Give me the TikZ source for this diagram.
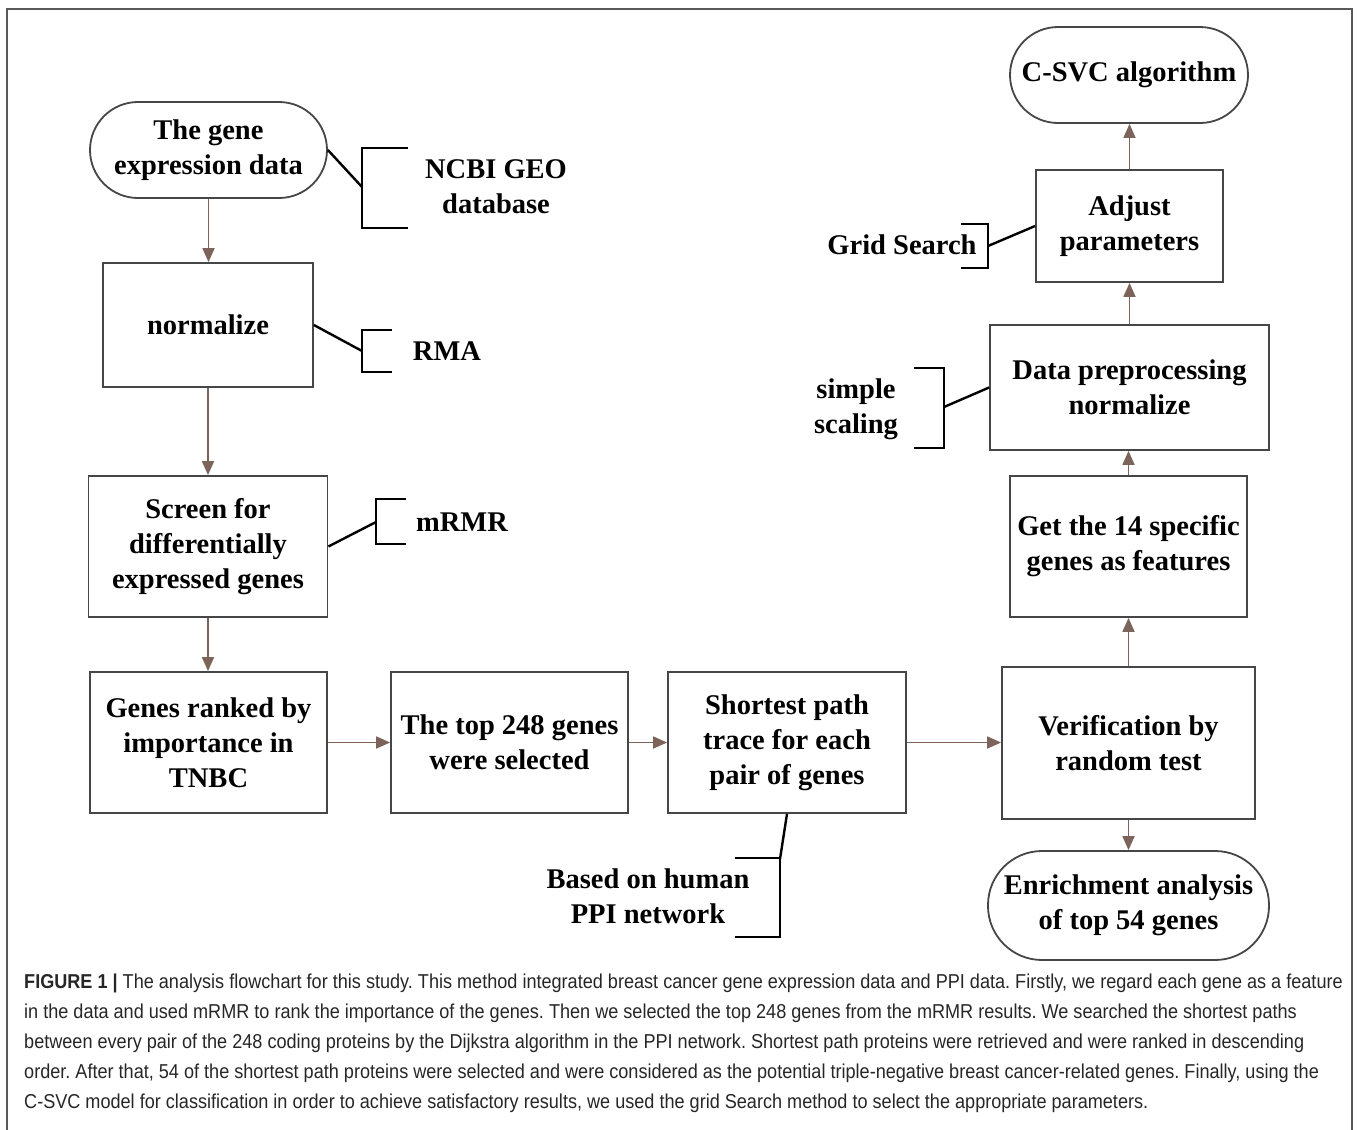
\documentclass[tikz,border=0pt]{standalone}
\usepackage{fontspec}
\setmainfont{Liberation Serif}
\newfontfamily\capfont[FakeStretch=0.9]{Liberation Sans}
\usetikzlibrary{arrows.meta}
\definecolor{arr}{RGB}{125,100,90}
\definecolor{bord}{RGB}{70,70,70}
\begin{document}
\frenchspacing
\begin{tikzpicture}[x=1pt,y=-1pt,
  txt/.style={inner sep=0pt, align=center, font=\fontsize{28.5}{35}\selectfont\bfseries},
  box/.style={txt, draw=bord, line width=1.8pt},
  flow/.style={draw=arr, line width=1.8pt, -{Triangle[length=14pt,width=12pt]}},
  brk/.style={draw=black, line width=2.4pt},
  capline/.style={anchor=base west, inner sep=0pt, text=black!85, font=\capfont\fontsize{20.1}{30}\selectfont}
]
\useasboundingbox (0,0) rectangle (1358,1130);
\draw[draw=black!65, line width=1.3pt] (7,1132) -- (7,9) -- (1352,9) -- (1352,1132);

% nodes
\node[box, rounded corners=48pt, minimum width=237pt, minimum height=96pt] (start) at (208.5,150) {The gene\\expression data};
\node[box, minimum width=210pt, minimum height=124pt] (norm) at (208,325) {normalize};
\node[box, minimum width=239pt, minimum height=141pt] (screen) at (208,546.5) {Screen for\\differentially\\expressed genes};
\node[box, minimum width=237pt, minimum height=141pt] (genes) at (208.5,742.5) {Genes ranked by\\importance in\\TNBC};
\node[box, minimum width=237pt, minimum height=141pt] (top) at (509.5,742.5) {The top 248 genes\\were selected};
\node[box, minimum width=238pt, minimum height=141pt] (short) at (787,742.5) {Shortest path\\trace for each\\pair of genes};
\node[box, minimum width=253pt, minimum height=152pt] (verif) at (1128.5,743) {Verification by\\random test};
\node[box, rounded corners=54pt, minimum width=281pt, minimum height=109pt] (enrich) at (1128.5,905.5) {Enrichment analysis\\of top 54 genes};
\node[box, minimum width=237pt, minimum height=141pt] (get14) at (1128.5,546.5) {Get the 14 specific\\genes as features};
\node[box, minimum width=279pt, minimum height=125pt] (data) at (1129.5,387.5) {Data preprocessing\\normalize};
\node[box, minimum width=187pt, minimum height=112pt] (adjust) at (1129.5,226) {Adjust\\parameters};
\node[box, rounded corners=48pt, minimum width=238pt, minimum height=96pt] (csvc) at (1129,75) {C-SVC algorithm};

% flow arrows
\draw[flow] (start.south) -- (start.south |- norm.north);
\draw[flow] (norm.south) -- (norm.south |- screen.north);
\draw[flow] (screen.south) -- (screen.south |- genes.north);
\draw[flow] (genes.east) -- (top.west);
\draw[flow] (top.east) -- (short.west);
\draw[flow] (short.east) -- (short.east -| verif.west);
\draw[flow] (verif.south) -- (verif.south |- enrich.north);
\draw[flow] (verif.north) -- (verif.north |- get14.south);
\draw[flow] (get14.north) -- (get14.north |- data.south);
\draw[flow] (data.north) -- (data.north |- adjust.south);
\draw[flow] (adjust.north) -- (adjust.north |- csvc.south);

% annotations
\coordinate (ncbiM) at (362,187);
\draw[brk] (408,148) -- (362,148) -- (362,228) -- (408,228);
\draw[brk] (start.east) -- (ncbiM);
\node[txt] (ncbi) at (496,187) {NCBI GEO\\database};

\coordinate (rmaM) at (362,351);
\draw[brk] (392,330) -- (362,330) -- (362,372) -- (392,372);
\draw[brk] (norm.east) -- (rmaM);
\node[txt] (rma) at (447,351) {RMA};

\coordinate (mrmrM) at (376,522);
\draw[brk] (406,499) -- (376,499) -- (376,544) -- (406,544);
\draw[brk] (screen.east) -- (mrmrM);
\node[txt] (mrmr) at (462,522) {mRMR};

\coordinate (gridM) at (988,246);
\draw[brk] (961,224) -- (988,224) -- (988,268) -- (961,268);
\draw[brk] (gridM) -- (adjust.west);
\node[txt] (grid) at (902,245) {Grid Search};

\coordinate (scalM) at (944,407);
\draw[brk] (914,368) -- (944,368) -- (944,448) -- (914,448);
\draw[brk] (scalM) -- (data.west);
\node[txt] (scal) at (856,409) {simple\\scaling};

\coordinate (ppiT) at (780,859);
\draw[brk] (735,858) -- (780,858) -- (780,937) -- (735,937);
\draw[brk] (short.south) -- (ppiT);
\node[txt] (ppi) at (648,896) {Based on human\\PPI network};

% caption
\node[capline] (c1) at (24,988) {\textbf{FIGURE 1 |} The analysis flowchart for this study. This method integrated breast cancer gene expression data and PPI data. Firstly, we regard each gene as a feature};
\node[capline] (c2) at (24,1018) {in the data and used mRMR to rank the importance of the genes. Then we selected the top 248 genes from the mRMR results. We searched the shortest paths};
\node[capline] (c3) at (24,1048) {between every pair of the 248 coding proteins by the Dijkstra algorithm in the PPI network. Shortest path proteins were retrieved and were ranked in descending};
\node[capline] (c4) at (24,1078) {order. After that, 54 of the shortest path proteins were selected and were considered as the potential triple-negative breast cancer-related genes. Finally, using the};
\node[capline] (c5) at (24,1108) {C-SVC model for classification in order to achieve satisfactory results, we used the grid Search method to select the appropriate parameters.};
\end{tikzpicture}
\end{document}
